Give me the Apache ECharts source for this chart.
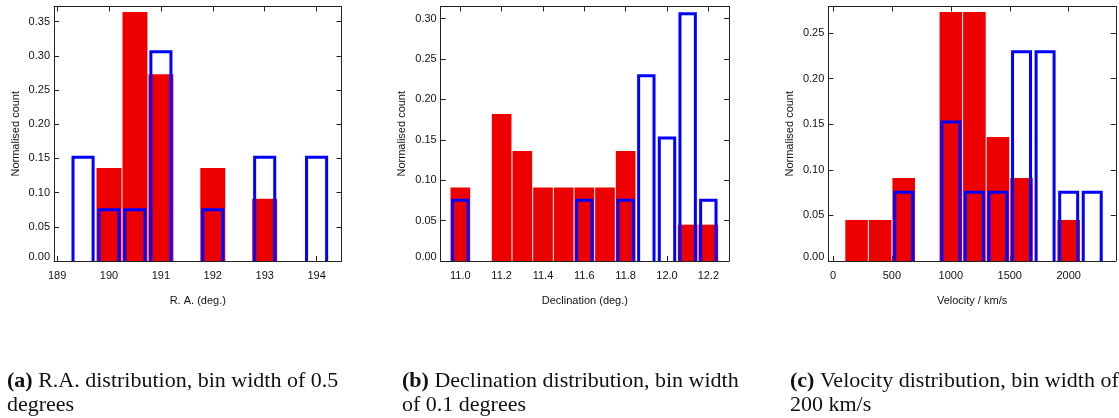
<!DOCTYPE html>
<html>
<head>
<meta charset="utf-8">
<script src="https://cdn.jsdelivr.net/npm/echarts@6/dist/echarts.min.js"></script>
<style>
  html, body { margin: 0; padding: 0; background: #fff; }
  #chart { width: 1119px; height: 418px; }
</style>
</head>
<body>
<div id="chart"></div>
<script>
// R.A. panel
var raRedBins = [190, 190.5, 191, 192, 193];
var raRedCounts = [0.136, 0.364, 0.273, 0.136, 0.091];
var raBlueBins = [189.5, 190, 190.5, 191, 192, 193, 194];
var raBlueCounts = [0.154, 0.077, 0.077, 0.308, 0.077, 0.154, 0.154];
var raTicks = [189, 190, 191, 192, 193, 194];
var raCountTicks = [0, 0.05, 0.10, 0.15, 0.20, 0.25, 0.30, 0.35];

// Declination panel
var decRedBins = [11.0, 11.2, 11.3, 11.4, 11.5, 11.6, 11.7, 11.8, 12.1, 12.2];
var decRedCounts = [0.091, 0.182, 0.136, 0.091, 0.091, 0.091, 0.091, 0.136, 0.045, 0.045];
var decBlueBins = [11.0, 11.6, 11.8, 11.9, 12.0, 12.1, 12.2];
var decBlueCounts = [0.077, 0.077, 0.077, 0.231, 0.154, 0.308, 0.077];
var decTicks = [11.0, 11.2, 11.4, 11.6, 11.8, 12.0, 12.2];
var decCountTicks = [0, 0.05, 0.10, 0.15, 0.20, 0.25, 0.30];

// Velocity panel
var velRedBins = [200, 400, 600, 1000, 1200, 1400, 1600, 2000];
var velRedCounts = [0.045, 0.045, 0.091, 0.273, 0.273, 0.136, 0.091, 0.045];
var velBlueBins = [600, 1000, 1200, 1400, 1600, 1800, 2000, 2200];
var velBlueCounts = [0.077, 0.154, 0.077, 0.077, 0.231, 0.231, 0.077, 0.077];
var velTicks = [0, 500, 1000, 1500, 2000];
var velCountTicks = [0, 0.05, 0.10, 0.15, 0.20, 0.25];

var captions = [
    '{b|(a)} R.A. distribution, bin width of 0.5\ndegrees',
    '{b|(b)} Declination distribution, bin width\nof 0.1 degrees',
    '{b|(c)} Velocity distribution, bin width of\n200 km/s'
];

var dom = document.getElementById("chart");
var myChart = echarts.init(dom, null, {renderer: 'canvas'});
var option;

var frameColor = '#222';
var sans = '"Liberation Sans", Arial, sans-serif';
var serif = '"Liberation Serif", "Times New Roman", serif';

function pairs(xs, ys) {
    return xs.map(function (x, i) { return [x, ys[i]]; });
}

// filled histogram bars, thin white gap between neighbours
function redBars(bin) {
    return function (params, api) {
        var x = api.value(0), v = api.value(1);
        var p0 = api.coord([x - bin / 2, v]);
        var p1 = api.coord([x + bin / 2, 0]);
        return {
            type: 'rect',
            shape: {x: p0[0] + 0.5, y: p0[1], width: p1[0] - p0[0] - 1, height: p1[1] - p0[1]},
            style: {fill: '#ee0000'}
        };
    };
}

// open outline bars, no bottom edge
function blueBars(bin) {
    return function (params, api) {
        var x = api.value(0), v = api.value(1);
        var top = api.coord([x, v]);
        var base = api.coord([x, 0]);
        var half = api.size([bin, 0])[0] * 0.445 - 1.5;
        return {
            type: 'polyline',
            shape: {
                points: [
                    [top[0] - half, base[1]],
                    [top[0] - half, top[1] + 1.5],
                    [top[0] + half, top[1] + 1.5],
                    [top[0] + half, base[1]]
                ]
            },
            style: {stroke: '#0000ff', lineWidth: 3, fill: null, lineJoin: 'miter'}
        };
    };
}

var panels = [
    {left: 54, width: 287.5, xMin: 188.94, xMax: 194.48, yMax: 0.372, bin: 0.5,
        xTicks: raTicks, yTicks: raCountTicks, xDigits: 0, xName: 'R. A. (deg.)',
        red: pairs(raRedBins, raRedCounts), blue: pairs(raBlueBins, raBlueCounts)},
    {left: 440.7, width: 288.3, xMin: 10.905, xMax: 12.3, yMax: 0.315, bin: 0.1,
        xTicks: decTicks, yTicks: decCountTicks, xDigits: 1, xName: 'Declination (deg.)',
        red: pairs(decRedBins, decRedCounts), blue: pairs(decBlueBins, decBlueCounts)},
    {left: 828.3, width: 287.5, xMin: -40, xMax: 2400, yMax: 0.279, bin: 200,
        xTicks: velTicks, yTicks: velCountTicks, xDigits: 0, xName: 'Velocity / km/s',
        red: pairs(velRedBins, velRedCounts), blue: pairs(velBlueBins, velBlueCounts)}
];

var grids = [], xAxes = [], yAxes = [], series = [], titles = [];
var captionLeft = [2, 397, 785];

panels.forEach(function (p, i) {
    grids.push({left: p.left, top: 6.5, width: p.width, height: 254.5});

    var tick = {show: true, inside: true, length: 5, lineStyle: {color: frameColor, width: 1}};
    var line = {show: true, onZero: false, lineStyle: {color: frameColor, width: 1}};

    // bottom + top x axes
    xAxes.push({
        type: 'value', gridIndex: i, position: 'bottom', min: p.xMin, max: p.xMax,
        axisLine: line, splitLine: {show: false},
        axisTick: Object.assign({customValues: p.xTicks}, tick),
        axisLabel: {
            customValues: p.xTicks, margin: 9, color: '#111', fontSize: 11, fontFamily: sans,
            formatter: function (v) { return v.toFixed(p.xDigits); }
        },
        name: p.xName, nameLocation: 'middle', nameGap: 34,
        nameTextStyle: {color: '#111', fontSize: 11, fontFamily: sans}
    });
    xAxes.push({
        type: 'value', gridIndex: i, position: 'top', min: p.xMin, max: p.xMax,
        axisLine: line, splitLine: {show: false},
        axisTick: Object.assign({customValues: p.xTicks}, tick),
        axisLabel: {show: false}
    });

    // left + right y axes
    yAxes.push({
        type: 'value', gridIndex: i, position: 'left', min: 0, max: p.yMax,
        axisLine: line, splitLine: {show: false},
        axisTick: Object.assign({customValues: p.yTicks}, tick),
        axisLabel: {
            customValues: p.yTicks, margin: 4, color: '#111', fontSize: 11, fontFamily: sans,
            formatter: function (v) { return v === 0 ? '{z|0.00}' : v.toFixed(2); },
            rich: {z: {fontSize: 11, fontFamily: sans, color: '#111', padding: [0, 0, 8, 0]}}
        },
        name: 'Normalised count', nameLocation: 'middle', nameGap: 33,
        nameTextStyle: {color: '#111', fontSize: 11, fontFamily: sans}
    });
    yAxes.push({
        type: 'value', gridIndex: i, position: 'right', min: 0, max: p.yMax,
        axisLine: line, splitLine: {show: false},
        axisTick: Object.assign({customValues: p.yTicks}, tick),
        axisLabel: {show: false}
    });

    series.push({
        type: 'custom', xAxisIndex: i * 2, yAxisIndex: i * 2, z: 3,
        renderItem: redBars(p.bin), data: p.red, silent: true
    });
    series.push({
        type: 'custom', xAxisIndex: i * 2, yAxisIndex: i * 2, z: 4,
        renderItem: blueBars(p.bin), data: p.blue, silent: true
    });

    titles.push({
        text: captions[i], left: captionLeft[i], top: 364,
        textStyle: {
            fontFamily: serif, fontSize: 22, fontWeight: 'normal', color: '#111', lineHeight: 24,
            rich: {b: {fontFamily: serif, fontSize: 22, fontWeight: 'bold', color: '#111', lineHeight: 24}}
        }
    });
});

option = {
    animation: false,
    backgroundColor: '#fff',
    title: titles,
    grid: grids,
    xAxis: xAxes,
    yAxis: yAxes,
    series: series
};

if (option && typeof option === 'object') {
    myChart.setOption(option);
}
</script>
</body>
</html>
